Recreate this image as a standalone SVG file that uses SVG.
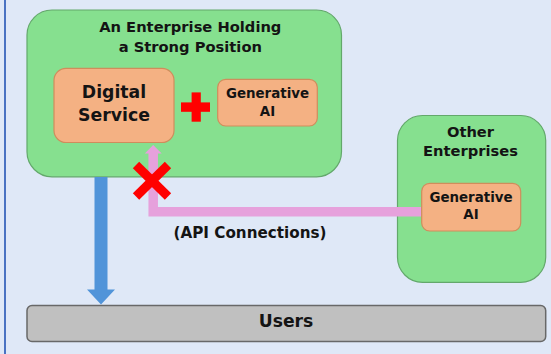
<svg xmlns="http://www.w3.org/2000/svg" width="551" height="354" viewBox="0 0 551 354">
  <defs>
    <style>
      .txt { font-family: "DejaVu Sans", Verdana, sans-serif; font-weight: bold; fill: #141414; text-anchor: middle; }
      .group { fill: #86e08f; stroke: #63a86b; stroke-width: 1.2; }
      .item { fill: #f4b183; stroke: #cf8d5c; stroke-width: 1.2; }
      .users { fill: #c0c0c0; stroke: #686868; stroke-width: 1.5; }
      .api { fill: none; stroke: #e6a1dc; stroke-width: 9.5; stroke-linejoin: miter; stroke-linecap: butt; }
      .red { fill: none; stroke: #ff0000; stroke-width: 9; stroke-linecap: butt; }
    </style>
  </defs>

  <!-- page -->
  <rect x="0" y="0" width="551" height="354" fill="#dfe8f7"/>
  <rect x="4" y="0" width="2" height="354" fill="#4a72c2"/>

  <!-- enterprise holding a strong position -->
  <g id="strong-enterprise">
    <rect class="group" x="27" y="10" width="314.5" height="166.8" rx="25" ry="25"/>
    <text class="txt" x="190.3" y="32.3" font-size="14.7">An Enterprise Holding</text>
    <text class="txt" x="190.3" y="51.7" font-size="14.7">a Strong Position</text>
  </g>

  <!-- other enterprises -->
  <g id="other-enterprises">
    <rect class="group" x="397.5" y="115.5" width="148.2" height="166.8" rx="25" ry="25"/>
    <text class="txt" x="470.5" y="137.3" font-size="14.7">Other</text>
    <text class="txt" x="470.5" y="155.7" font-size="14.7">Enterprises</text>
  </g>

  <!-- connectors -->
  <g id="connectors">
    <!-- service delivered to users -->
    <polygon fill="#5194d9" points="94.5,177 107.5,177 107.5,289.5 115,289.5 101,304.5 87,289.5 94.5,289.5"/>
    <!-- API connection from external generative AI -->
    <polyline class="api" points="421.5,211.8 153.2,211.8 153.2,153"/>
    <polygon fill="#e6a1dc" points="144.8,153.6 153.2,145 161.7,153.6"/>
  </g>

  <!-- users -->
  <g id="users">
    <rect class="users" x="27" y="305.5" width="518.7" height="36" rx="5" ry="5"/>
    <text class="txt" x="286" y="327.3" font-size="17.2">Users</text>
  </g>

  <g id="digital-service">
    <rect class="item" x="54" y="68.3" width="120" height="74.2" rx="12" ry="12"/>
    <text class="txt" x="114" y="98.3" font-size="17.3">Digital</text>
    <text class="txt" x="114" y="121" font-size="17.3">Service</text>
  </g>

  <g id="generative-ai-own">
    <rect class="item" x="217.7" y="79.3" width="99.6" height="46.7" rx="8" ry="8"/>
    <text class="txt" x="267.5" y="98.3" font-size="13.4">Generative</text>
    <text class="txt" x="267.5" y="115.7" font-size="13.4">AI</text>
  </g>

  <g id="generative-ai-other">
    <rect class="item" x="421.7" y="183.3" width="99" height="47.7" rx="8" ry="8"/>
    <text class="txt" x="471" y="202.3" font-size="13.4">Generative</text>
    <text class="txt" x="471" y="219" font-size="13.4">AI</text>
  </g>

  <!-- combination mark -->
  <g id="plus">
    <rect x="181" y="102.4" width="29" height="9.4" fill="#ff0000"/>
    <rect x="191.6" y="92.4" width="9.2" height="29.3" fill="#ff0000"/>
  </g>

  <!-- blocked connection mark -->
  <g id="cross">
    <line class="red" x1="136" y1="165" x2="168" y2="196.5"/>
    <line class="red" x1="168" y1="165" x2="136" y2="196.5"/>
  </g>

  <text class="txt" x="250" y="238.3" font-size="15.2">(API Connections)</text>
</svg>
